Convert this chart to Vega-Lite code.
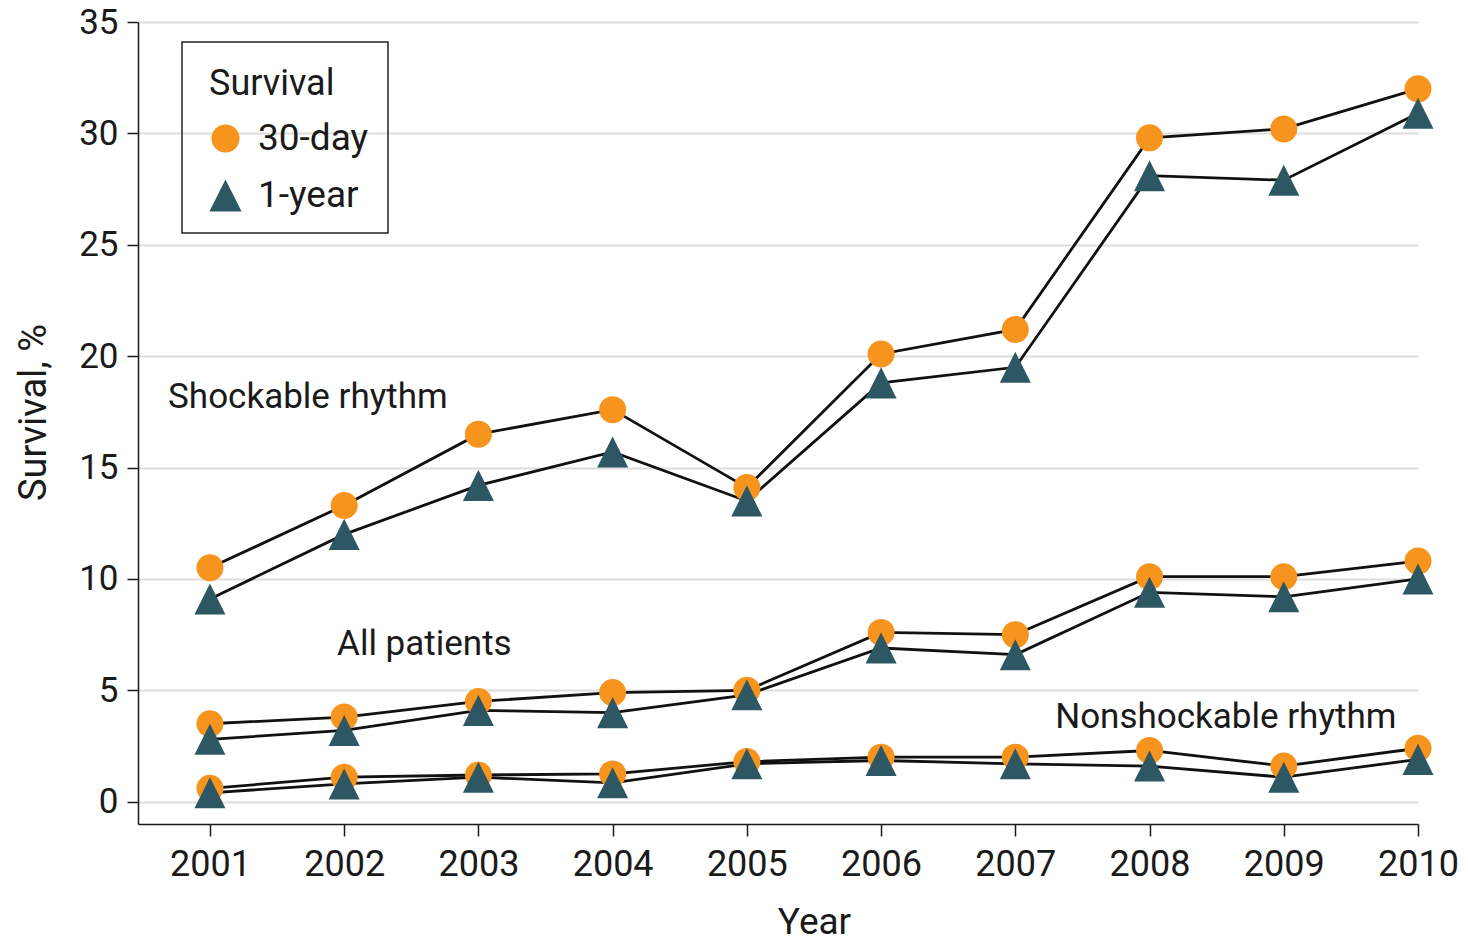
{
  "$schema": "https://vega.github.io/schema/vega-lite/v6.json",
  "width": 1280,
  "height": 802,
  "autosize": {"type": "none"},
  "padding": {"left": 138, "top": 22, "right": 50, "bottom": 119},
  "background": "white",
  "config": {
    "view": {"stroke": null},
    "font": "Roboto",
    "axis": {"labelFont": "Roboto", "titleFont": "Roboto", "labelColor": "#1a1a1a", "titleColor": "#1a1a1a", "titleFontWeight": "normal"},
    "legend": {"labelFont": "Roboto", "titleFont": "Roboto", "titleFontWeight": "normal"}
  },
  "datasets": {
    "series": [
      {"group": "Shockable rhythm", "survival": "30-day", "year": 2001, "value": 10.5},
      {"group": "Shockable rhythm", "survival": "30-day", "year": 2002, "value": 13.3},
      {"group": "Shockable rhythm", "survival": "30-day", "year": 2003, "value": 16.5},
      {"group": "Shockable rhythm", "survival": "30-day", "year": 2004, "value": 17.6},
      {"group": "Shockable rhythm", "survival": "30-day", "year": 2005, "value": 14.1},
      {"group": "Shockable rhythm", "survival": "30-day", "year": 2006, "value": 20.1},
      {"group": "Shockable rhythm", "survival": "30-day", "year": 2007, "value": 21.2},
      {"group": "Shockable rhythm", "survival": "30-day", "year": 2008, "value": 29.8},
      {"group": "Shockable rhythm", "survival": "30-day", "year": 2009, "value": 30.2},
      {"group": "Shockable rhythm", "survival": "30-day", "year": 2010, "value": 32.0},
      {"group": "All patients", "survival": "30-day", "year": 2001, "value": 3.5},
      {"group": "All patients", "survival": "30-day", "year": 2002, "value": 3.8},
      {"group": "All patients", "survival": "30-day", "year": 2003, "value": 4.5},
      {"group": "All patients", "survival": "30-day", "year": 2004, "value": 4.9},
      {"group": "All patients", "survival": "30-day", "year": 2005, "value": 5.0},
      {"group": "All patients", "survival": "30-day", "year": 2006, "value": 7.6},
      {"group": "All patients", "survival": "30-day", "year": 2007, "value": 7.5},
      {"group": "All patients", "survival": "30-day", "year": 2008, "value": 10.1},
      {"group": "All patients", "survival": "30-day", "year": 2009, "value": 10.1},
      {"group": "All patients", "survival": "30-day", "year": 2010, "value": 10.8},
      {"group": "Nonshockable rhythm", "survival": "30-day", "year": 2001, "value": 0.6},
      {"group": "Nonshockable rhythm", "survival": "30-day", "year": 2002, "value": 1.1},
      {"group": "Nonshockable rhythm", "survival": "30-day", "year": 2003, "value": 1.2},
      {"group": "Nonshockable rhythm", "survival": "30-day", "year": 2004, "value": 1.25},
      {"group": "Nonshockable rhythm", "survival": "30-day", "year": 2005, "value": 1.8},
      {"group": "Nonshockable rhythm", "survival": "30-day", "year": 2006, "value": 2.0},
      {"group": "Nonshockable rhythm", "survival": "30-day", "year": 2007, "value": 2.0},
      {"group": "Nonshockable rhythm", "survival": "30-day", "year": 2008, "value": 2.3},
      {"group": "Nonshockable rhythm", "survival": "30-day", "year": 2009, "value": 1.6},
      {"group": "Nonshockable rhythm", "survival": "30-day", "year": 2010, "value": 2.4},
      {"group": "Shockable rhythm", "survival": "1-year", "year": 2001, "value": 9.1},
      {"group": "Shockable rhythm", "survival": "1-year", "year": 2002, "value": 12.0},
      {"group": "Shockable rhythm", "survival": "1-year", "year": 2003, "value": 14.2},
      {"group": "Shockable rhythm", "survival": "1-year", "year": 2004, "value": 15.7},
      {"group": "Shockable rhythm", "survival": "1-year", "year": 2005, "value": 13.5},
      {"group": "Shockable rhythm", "survival": "1-year", "year": 2006, "value": 18.8},
      {"group": "Shockable rhythm", "survival": "1-year", "year": 2007, "value": 19.5},
      {"group": "Shockable rhythm", "survival": "1-year", "year": 2008, "value": 28.1},
      {"group": "Shockable rhythm", "survival": "1-year", "year": 2009, "value": 27.9},
      {"group": "Shockable rhythm", "survival": "1-year", "year": 2010, "value": 30.9},
      {"group": "All patients", "survival": "1-year", "year": 2001, "value": 2.8},
      {"group": "All patients", "survival": "1-year", "year": 2002, "value": 3.2},
      {"group": "All patients", "survival": "1-year", "year": 2003, "value": 4.1},
      {"group": "All patients", "survival": "1-year", "year": 2004, "value": 4.0},
      {"group": "All patients", "survival": "1-year", "year": 2005, "value": 4.8},
      {"group": "All patients", "survival": "1-year", "year": 2006, "value": 6.9},
      {"group": "All patients", "survival": "1-year", "year": 2007, "value": 6.6},
      {"group": "All patients", "survival": "1-year", "year": 2008, "value": 9.4},
      {"group": "All patients", "survival": "1-year", "year": 2009, "value": 9.2},
      {"group": "All patients", "survival": "1-year", "year": 2010, "value": 10.0},
      {"group": "Nonshockable rhythm", "survival": "1-year", "year": 2001, "value": 0.4},
      {"group": "Nonshockable rhythm", "survival": "1-year", "year": 2002, "value": 0.8},
      {"group": "Nonshockable rhythm", "survival": "1-year", "year": 2003, "value": 1.1},
      {"group": "Nonshockable rhythm", "survival": "1-year", "year": 2004, "value": 0.85},
      {"group": "Nonshockable rhythm", "survival": "1-year", "year": 2005, "value": 1.7},
      {"group": "Nonshockable rhythm", "survival": "1-year", "year": 2006, "value": 1.85},
      {"group": "Nonshockable rhythm", "survival": "1-year", "year": 2007, "value": 1.7},
      {"group": "Nonshockable rhythm", "survival": "1-year", "year": 2008, "value": 1.6},
      {"group": "Nonshockable rhythm", "survival": "1-year", "year": 2009, "value": 1.1},
      {"group": "Nonshockable rhythm", "survival": "1-year", "year": 2010, "value": 1.9}
    ],
    "labels": [
      {"label": "Shockable rhythm", "year": 2000.688, "value": 17.68},
      {"label": "All patients", "year": 2001.947, "value": 6.6},
      {"label": "Nonshockable rhythm", "year": 2007.297, "value": 3.32}
    ]
  },
  "encoding": {
    "x": {
      "field": "year", "type": "quantitative",
      "scale": {"domain": [2000.464, 2010], "nice": false, "zero": false},
      "axis": {
        "title": "Year", "values": [2001, 2002, 2003, 2004, 2005, 2006, 2007, 2008, 2009, 2010], "format": "d",
        "grid": false, "domainColor": "#1a1a1a", "domainWidth": 1.5, "tickColor": "#1a1a1a", "tickWidth": 1.5, "tickSize": 12,
        "labelFontSize": 36, "labelPadding": 11, "labelFlush": false, "labelOverlap": false,
        "titleFontSize": 37, "titleX": 676, "titleY": 109, "titleBaseline": "alphabetic", "titleAlign": "center"
      }
    },
    "y": {
      "field": "value", "type": "quantitative",
      "scale": {"domain": [-1, 35], "nice": false, "zero": false},
      "axis": {
        "title": "Survival, %", "values": [0, 5, 10, 15, 20, 25, 30, 35],
        "grid": true, "gridColor": "#dddddd", "gridWidth": 2,
        "domainColor": "#1a1a1a", "domainWidth": 1.5, "tickColor": "#1a1a1a", "tickWidth": 1.5, "tickSize": 11,
        "labelFontSize": 35, "labelPadding": 9,
        "titleFontSize": 38, "titleX": -93, "titleY": 390, "titleAngle": -90, "titleBaseline": "alphabetic", "titleAlign": "center"
      }
    }
  },
  "layer": [
    {
      "data": {"name": "series"},
      "mark": {"type": "line", "color": "#111111", "strokeWidth": 2.8},
      "encoding": {
        "detail": [{"field": "group"}, {"field": "survival"}],
        "order": {"field": "year", "type": "quantitative"}
      }
    },
    {
      "data": {"name": "series"},
      "mark": {"type": "point", "filled": true, "opacity": 1, "size": 729, "strokeWidth": 0},
      "encoding": {
        "color": {
          "field": "survival", "type": "nominal",
          "scale": {"domain": ["30-day", "1-year"], "range": ["#F7941D", "#2E5764"]},
          "legend": {
            "title": "Survival", "orient": "none", "legendX": 44, "legendY": 20,
            "padding": 19, "symbolOffset": 6, "labelExpr": "datum.label + ' '",
            "titleFontSize": 36, "titlePadding": 23, "labelFontSize": 37, "labelOffset": 14,
            "rowPadding": 19, "symbolSize": 784, "symbolStrokeWidth": 0, "symbolOpacity": 1, "titleColor": "#1a1a1a", "labelColor": "#1a1a1a",
            "encode": {
              "legend": {"update": {"stroke": {"value": "#222222"}, "strokeWidth": {"value": 1.5}}},
              "title": {"update": {"dy": {"value": 6}, "dx": {"value": 8}}}
            }
          }
        },
        "shape": {
          "field": "survival", "type": "nominal",
          "scale": {"domain": ["30-day", "1-year"], "range": ["circle", "M0,-1.15L1.15,1.15L-1.15,1.15Z"]},
          "legend": {
            "title": "Survival", "orient": "none", "legendX": 44, "legendY": 20,
            "padding": 19, "symbolOffset": 6, "labelExpr": "datum.label + ' '",
            "titleFontSize": 36, "titlePadding": 23, "labelFontSize": 37, "labelOffset": 14,
            "rowPadding": 19, "symbolSize": 784, "symbolStrokeWidth": 0, "symbolOpacity": 1, "titleColor": "#1a1a1a", "labelColor": "#1a1a1a",
            "encode": {
              "legend": {"update": {"stroke": {"value": "#222222"}, "strokeWidth": {"value": 1.5}}},
              "title": {"update": {"dy": {"value": 6}, "dx": {"value": 8}}}
            }
          }
        }
      }
    },
    {
      "data": {"name": "labels"},
      "mark": {"type": "text", "align": "left", "baseline": "alphabetic", "fontSize": 35, "font": "Roboto", "color": "#1a1a1a"},
      "encoding": {
        "text": {"field": "label"}
      }
    }
  ]
}
